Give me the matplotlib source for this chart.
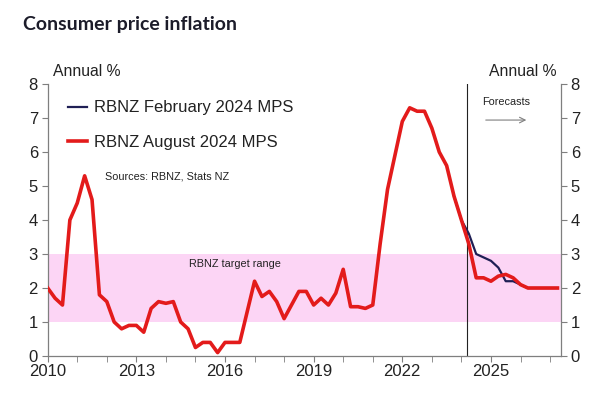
import matplotlib
matplotlib.use("Agg")
import matplotlib.pyplot as plt
from matplotlib.ticker import MultipleLocator

plt.rcParams["font.family"] = ["Liberation Sans", "DejaVu Sans"]

# quarterly annual CPI, x = year + (quarter-1)/4
aug_x = [2010 + i * 0.25 for i in range(70)]
aug_y = [2.0, 1.7, 1.5, 4.0, 4.5, 5.3, 4.6, 1.8,
         1.6, 1.0, 0.8, 0.9, 0.9, 0.7, 1.4, 1.6,
         1.55, 1.6, 1.0, 0.8, 0.25, 0.4, 0.4, 0.1,
         0.4, 0.4, 0.4, 1.3, 2.2, 1.75, 1.9, 1.6,
         1.1, 1.5, 1.9, 1.9, 1.5, 1.7, 1.5, 1.85,
         2.55, 1.45, 1.45, 1.4, 1.5, 3.3, 4.9, 5.9,
         6.9, 7.3, 7.2, 7.2, 6.7, 6.0, 5.6, 4.7,
         4.0, 3.3, 2.3, 2.3, 2.2, 2.35, 2.4, 2.3,
         2.1, 2.0, 2.0, 2.0, 2.0, 2.0]

feb_x = [2023.75 + i * 0.25 for i in range(15)]
feb_y = [4.7, 4.0, 3.6, 3.0, 2.9, 2.8, 2.6, 2.2, 2.2,
         2.1, 2.0, 2.0, 2.0, 2.0, 2.0]

year_labels = ["2010", "2013", "2016", "2019", "2022", "2025"]

RED = "#e31b1b"
NAVY = "#1f1f55"
PINK = "#fcd5f5"

fig = plt.figure(figsize=(6, 3.95), dpi=100)
ax = fig.add_axes([0.0795, 0.0987, 0.8555, 0.6886])

ax.axhspan(1, 3, color=PINK, lw=0, zorder=0)
ax.axvline(2024.2, color="#222222", lw=0.8, zorder=1)

ax.plot(feb_x, feb_y, color=NAVY, lw=1.6, label="RBNZ February 2024 MPS", zorder=2)
ax.plot(aug_x, aug_y, color=RED, lw=2.6, label="RBNZ August 2024 MPS", zorder=3)

ax.set_xlim(2010, 2027.37)
ax.set_ylim(0, 8)
ax.set_xticks([int(s) for s in year_labels])
ax.set_xticklabels(year_labels)
ax.xaxis.set_minor_locator(MultipleLocator(1))
ax.yaxis.set_major_locator(MultipleLocator(1))

for side in ["left", "right", "bottom"]:
    ax.spines[side].set_color("#7f7f7f")
    ax.spines[side].set_linewidth(0.9)
ax.spines["top"].set_visible(False)

ax.tick_params(axis="both", which="both", direction="out", color="#7f7f7f",
               labelsize=12, labelcolor="#222222")
ax.tick_params(axis="x", which="major", length=4, pad=2)
ax.tick_params(axis="x", which="minor", length=4)
ax.tick_params(axis="y", length=4, pad=3, labelright=True, right=True)

leg = ax.legend(loc="upper left", bbox_to_anchor=(0.04, 0.94), frameon=False,
                fontsize=12, handlelength=1.1, handletextpad=0.45,
                labelspacing=1.15, borderpad=0, borderaxespad=0)
for t in leg.get_texts():
    t.set_color("#222222")

ax.text(2011.94, 5.29, "Sources: RBNZ, Stats NZ", fontsize=7.8, color="#222222",
        va="center", ha="left")
ax.text(2016.34, 2.7, "RBNZ target range", fontsize=7.8, color="#222222",
        va="center", ha="center")
ax.text(2025.5, 7.47, "Forecasts", fontsize=7.8, color="#222222",
        va="center", ha="center")
ax.annotate("", xy=(2026.29, 6.94), xytext=(2024.73, 6.94),
            arrowprops=dict(arrowstyle="->", color="#7f7f7f", lw=0.8))

fig.text(0.0883, 0.818, "Annual %", fontsize=11.3, color="#222222", ha="left", va="center")
fig.text(0.928, 0.818, "Annual %", fontsize=11.3, color="#222222", ha="right", va="center")
fig.text(0.038, 0.937, "Consumer price inflation", fontsize=14, fontweight="bold",
         family="Lato", color="#1c1c2a", ha="left", va="center")

fig.savefig("out.png", dpi=100)
